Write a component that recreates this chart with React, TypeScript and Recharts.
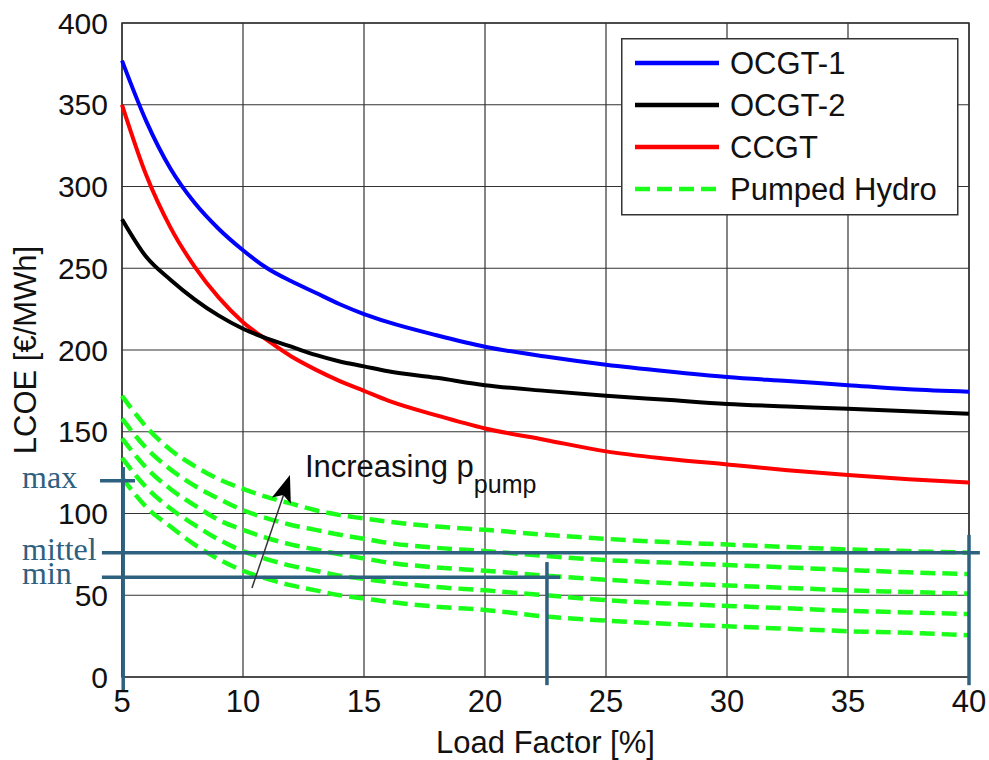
import React from 'react';
import {
  LineChart,
  Line,
  XAxis,
  YAxis,
  CartesianGrid,
  Legend,
  ReferenceLine,
  ReferenceDot,
  ReferenceArea,
} from 'recharts';

// Load factor [%] sampled along the curves
const loadFactor = [5, 6, 7, 8, 9, 10, 11, 12, 13, 14, 15, 16, 18, 20, 22.5, 25, 27.5, 30, 32.5, 35, 37.5, 40];

// LCOE [€/MWh]
const ocgt1 = [377, 340, 311, 290, 274, 261, 250, 242, 235, 228, 222, 217, 209, 202, 196, 191, 187, 183.5, 181, 178.5, 176, 174.5];
const ocgt2 = [280, 257, 243, 231, 221, 213, 207, 202, 197, 193, 190, 187, 183, 178.5, 175, 172, 169.5, 167, 165.5, 164, 162.5, 161];
const ccgt = [350, 307, 275, 251, 232, 217, 206, 196, 188, 181, 175, 169, 160, 152, 145, 138, 133.5, 130, 126.5, 123.5, 121, 119];

// pumped hydro, one curve per pump price (top = highest)
const hydro1 = [172, 153, 139, 129, 121, 115, 110, 106, 102, 99, 97, 95, 92, 90, 87, 84.5, 82.5, 81, 79.5, 78, 77, 76];
const hydro2 = [158, 140, 127, 117, 109, 102, 97, 93, 90, 87, 84.5, 82, 79, 77, 74, 71.5, 70, 68.5, 67, 65.5, 64, 63];
const hydro3 = [146, 128, 115, 105, 96, 90, 85, 81, 78, 75, 72.5, 70, 67, 65, 62, 59.5, 57.5, 56, 54.5, 53, 52, 51];
const hydro4 = [134, 116, 103, 93, 84, 77, 72, 68, 65, 62, 60, 58, 55, 53, 50, 47, 45, 43.5, 42, 40.5, 39.5, 38.5];
const hydro5 = [122, 104, 92, 81, 72, 65, 60, 56, 53, 50, 48, 46, 43, 41, 37, 34.5, 32.5, 31, 29.5, 28, 27, 25.5];

const xTicks = [5, 10, 15, 20, 25, 30, 35, 40];
const yTicks = [0, 50, 100, 150, 200, 250, 300, 350, 400];

// hand-drawn price levels on the left
const levelNames = ['max', 'mittel', 'min'];
const levelValues = [120, 76, 61];
const levelLabelY = [115.4, 71.6, 56.9];

const data = loadFactor.map((x, i) => ({
  x,
  ocgt1: ocgt1[i],
  ocgt2: ocgt2[i],
  ccgt: ccgt[i],
  h1: hydro1[i],
  h2: hydro2[i],
  h3: hydro3[i],
  h4: hydro4[i],
  h5: hydro5[i],
}));

const FONT = '"Liberation Sans", Arial, sans-serif';
const SERIF = '"Liberation Serif", "Times New Roman", serif';
const STEEL = '#2e6080';
const GREEN = '#1aff1a';
const DASH = '15 7';

const legendItems = [
  { name: 'OCGT-1', color: '#0000ff', dash: undefined },
  { name: 'OCGT-2', color: '#000000', dash: undefined },
  { name: 'CCGT', color: '#ff0000', dash: undefined },
  { name: 'Pumped Hydro', color: GREEN, dash: DASH },
];

const LegendBox = () => (
  <svg width={338} height={178} style={{ display: 'block' }}>
    <rect x={0.75} y={0.75} width={336} height={176} fill="#fff" stroke="#333" strokeWidth={1.5} />
    {legendItems.map((it, i) => {
      const y = 25 + i * 42;
      return (
        <g key={it.name}>
          <line x1={14} x2={98} y1={y} y2={y} stroke={it.color} strokeWidth={4.5} strokeDasharray={it.dash} />
          <text x={109} y={y} dy="0.36em" fontSize={31} fontFamily={FONT} fill="#111">
            {it.name}
          </text>
        </g>
      );
    })}
  </svg>
);

export default function App() {
  return (
    <div style={{ position: 'absolute', left: 0, top: 0, width: 989, height: 760, background: '#fff' }}>
      <LineChart width={989} height={760} data={data} margin={{ top: 23, right: 20, left: 0, bottom: 0 }}>
        <CartesianGrid stroke="#333" strokeWidth={1.2} />
        <XAxis
          dataKey="x"
          type="number"
          domain={[5, 40]}
          ticks={xTicks}
          height={83}
          tickLine={false}
          axisLine={false}
          tickSize={0}
          tickMargin={13}
          tick={{ fill: '#111', fontSize: 31, fontFamily: FONT }}
          label={{ value: 'Load Factor [%]', position: 'insideBottom', offset: 7, fill: '#111', fontSize: 31, fontFamily: FONT }}
        />
        <YAxis
          width={122}
          domain={[0, 400]}
          ticks={yTicks}
          tickLine={false}
          axisLine={false}
          tickSize={0}
          tickMargin={14}
          tick={{ fill: '#111', fontSize: 30, fontFamily: FONT }}
          label={{
            value: 'LCOE [€/MWh]',
            angle: -90,
            position: 'insideLeft',
            offset: 25,
            fill: '#111',
            fontSize: 31,
            fontFamily: FONT,
            style: { textAnchor: 'middle' },
          }}
        />
        <ReferenceArea x1={5} x2={40} y1={0} y2={400} fill="none" stroke="#333" strokeWidth={1.5} ifOverflow="visible" />

        {['h1', 'h2', 'h3', 'h4', 'h5'].map((k) => (
          <Line
            key={k}
            dataKey={k}
            type="monotone"
            stroke={GREEN}
            strokeWidth={4.5}
            strokeDasharray={DASH}
            dot={false}
            activeDot={false}
            isAnimationActive={false}
            legendType="none"
          />
        ))}
        <Line dataKey="ccgt" type="monotone" stroke="#ff0000" strokeWidth={4} dot={false} activeDot={false} isAnimationActive={false} />
        <Line dataKey="ocgt2" type="monotone" stroke="#000000" strokeWidth={4} dot={false} activeDot={false} isAnimationActive={false} />
        <Line dataKey="ocgt1" type="monotone" stroke="#0000ff" strokeWidth={4} dot={false} activeDot={false} isAnimationActive={false} />

        {/* steel-blue annotation lines */}
        <ReferenceLine segment={[{ x: 5.05, y: 128.4 }, { x: 5.05, y: -8 }]} stroke={STEEL} strokeWidth={3.5} ifOverflow="visible" />
        <ReferenceLine segment={[{ x: 4.09, y: levelValues[0] }, { x: 5.54, y: levelValues[0] }]} stroke={STEEL} strokeWidth={3.5} ifOverflow="visible" />
        <ReferenceLine segment={[{ x: 4.17, y: levelValues[1] }, { x: 40.45, y: levelValues[1] }]} stroke={STEEL} strokeWidth={3.5} ifOverflow="visible" />
        <ReferenceLine segment={[{ x: 4.17, y: levelValues[2] }, { x: 23.1, y: levelValues[2] }]} stroke={STEEL} strokeWidth={3.5} ifOverflow="visible" />
        <ReferenceLine segment={[{ x: 22.56, y: 70.3 }, { x: 22.56, y: -5 }]} stroke={STEEL} strokeWidth={3.5} ifOverflow="visible" />
        <ReferenceLine segment={[{ x: 40, y: 86.9 }, { x: 40, y: -5 }]} stroke={STEEL} strokeWidth={3.5} ifOverflow="visible" />
        {levelNames.map((n, i) => (
          <ReferenceDot
            key={n}
            x={0.87}
            y={levelLabelY[i]}
            ifOverflow="visible"
            shape={(p: any) => (
              <text x={p.cx} y={p.cy} fontSize={32} fontFamily={SERIF} fill={STEEL}>
                {n}
              </text>
            )}
          />
        ))}

        {/* arrow: increasing pump price */}
        <ReferenceLine segment={[{ x: 10.37, y: 54.4 }, { x: 11.85, y: 119 }]} stroke="#333" strokeWidth={1.5} ifOverflow="visible" />
        <ReferenceDot
          x={11.94}
          y={123.5}
          ifOverflow="visible"
          shape={(p: any) => (
            <polygon
              points="0,0 -10,27 0,21 10,27"
              fill="#000"
              transform={`translate(${p.cx},${p.cy}) rotate(18.6)`}
            />
          )}
        />
        <ReferenceDot
          x={12.56}
          y={122.3}
          ifOverflow="visible"
          shape={(p: any) => (
            <text x={p.cx} y={p.cy} fontSize={31} fontFamily={FONT} fill="#111">
              Increasing p
              <tspan dy={16} fontSize={25}>pump</tspan>
            </text>
          )}
        />

        <Legend
          layout="vertical"
          align="center"
          verticalAlign="middle"
          wrapperStyle={{ position: 'absolute', left: 621, top: 38, width: 338, height: 178 }}
          content={() => <LegendBox />}
        />
      </LineChart>
    </div>
  );
}
